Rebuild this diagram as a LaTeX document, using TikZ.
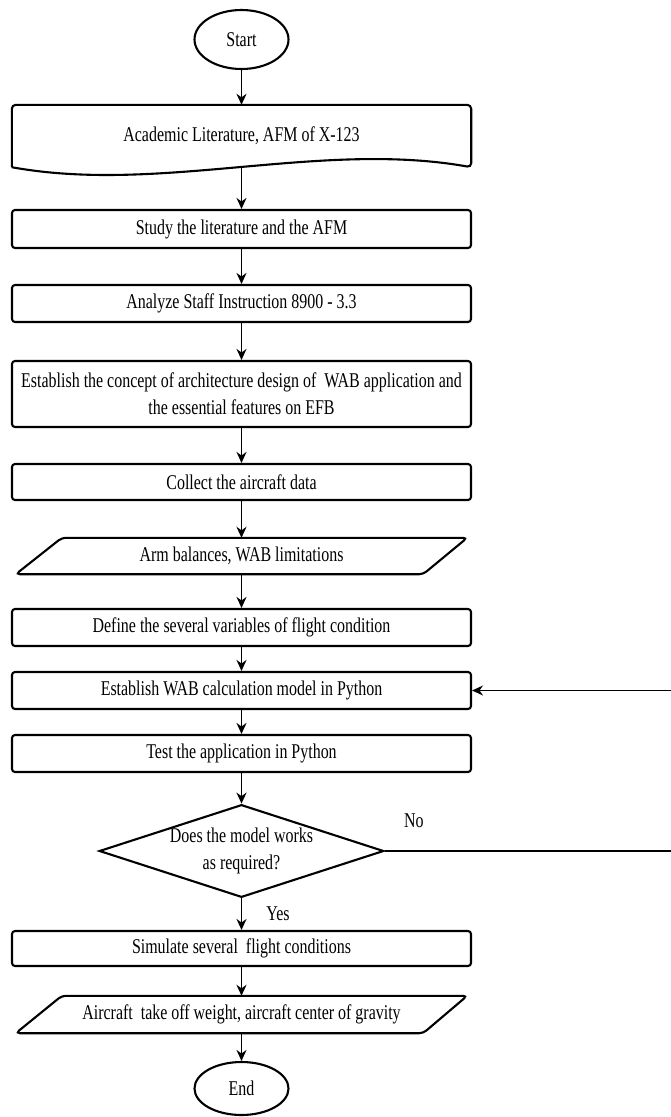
\documentclass[tikz,border=0pt]{standalone}
\usepackage{fontspec}
\setmainfont{Liberation Serif}[FakeStretch=0.76]
\usetikzlibrary{positioning, calc, arrows.meta, shapes.geometric}

\begin{document}
\begin{tikzpicture}[
  x=1pt, y=-1pt,
  every node/.style={font=\fontsize{21}{27}\selectfont, align=center, inner sep=2pt},
  proc/.style={draw, rounded corners=3pt, line width=2.1pt, minimum width=459pt, inner sep=0pt},
  term/.style={draw, ellipse, line width=2.1pt, minimum width=94pt, inner sep=0pt},
  decision/.style={draw, diamond, aspect=3.07, line width=2.1pt, minimum width=282pt, minimum height=92pt, inner sep=0pt},
  ghost/.style={minimum width=459pt, inner sep=0pt},
  shp/.style={line width=2.1pt, rounded corners=4pt},
  arr/.style={line width=1.9pt, -{Stealth[length=11pt,width=10pt]}},
  backarr/.style={line width=1.2pt, -{Stealth[length=11pt,width=10pt]}},
]
\useasboundingbox (0,0) rectangle (670,1117);

% Terminals and steps
\node[term, minimum height=59pt] (start) at (241.5,39.5) {Start};
\node[ghost, minimum height=62pt] (lit) at (241.5,136) {Academic Literature, AFM of X-123};
\node[proc, minimum height=38pt] (study) at (241.5,229) {Study the literature and the AFM};
\node[proc, minimum height=37pt] (staff) at (241.5,303.5) {Analyze Staff Instruction 8900 - 3.3};
\node[proc, minimum height=66pt] (concept) at (241.5,394) {Establish the concept of architecture design of \ WAB application and\\the essential features on EFB};
\node[proc, minimum height=36pt] (collect) at (241.5,482) {Collect the aircraft data};
\node[ghost, minimum width=451pt, minimum height=36pt] (arm) at (241.5,556) {Arm balances, WAB limitations};
\node[proc, minimum height=37pt] (define) at (241.5,627.5) {Define the several variables of flight condition};
\node[proc, minimum height=37pt] (model) at (241.5,690.5) {Establish WAB calculation model in Python};
\node[proc, minimum height=37pt] (test) at (241.5,753.5) {Test the application in Python};
\node[decision] (check) at (241.5,851) {Does the model works\\as required?};
\node[proc, minimum height=35pt] (sim) at (241.5,948.5) {Simulate several \ flight conditions};
\node[ghost, minimum width=451pt, minimum height=37pt] (out) at (241.5,1014.5) {Aircraft \ take off weight, aircraft center of gravity};
\node[term, minimum height=53pt] (finish) at (241.5,1088.5) {End};

% Document shape
\draw[shp] (lit.south west) -- (lit.north west) -- (lit.north east) -- (lit.south east)
  .. controls ($(lit.south east)+(-152,-27)$) and ($(lit.south west)+(148,27)$) .. (lit.south west);

% Data shapes
\foreach \d in {arm, out} {
  \draw[shp] ($(\d.north west)+(46,0)$) -- (\d.north east) -- ($(\d.south east)+(-44,0)$) -- (\d.south west) -- cycle;
}

% Main flow
\foreach \a/\b in {start/lit, lit/study, study/staff, staff/concept, concept/collect, collect/arm,
                   arm/define, define/model, model/test, test/check, sim/out, out/finish} {
  \draw[arr] (\a) -- (\b);
}
\draw[arr] (check) -- node[right=22pt] {Yes} (sim);

% Loop back
\coordinate (back) at (675,0);
\draw[backarr] (check.east) -- node[pos=0.1, above=21pt] {No} (check.east -| back) |- (model.east);
\end{tikzpicture}
\end{document}
